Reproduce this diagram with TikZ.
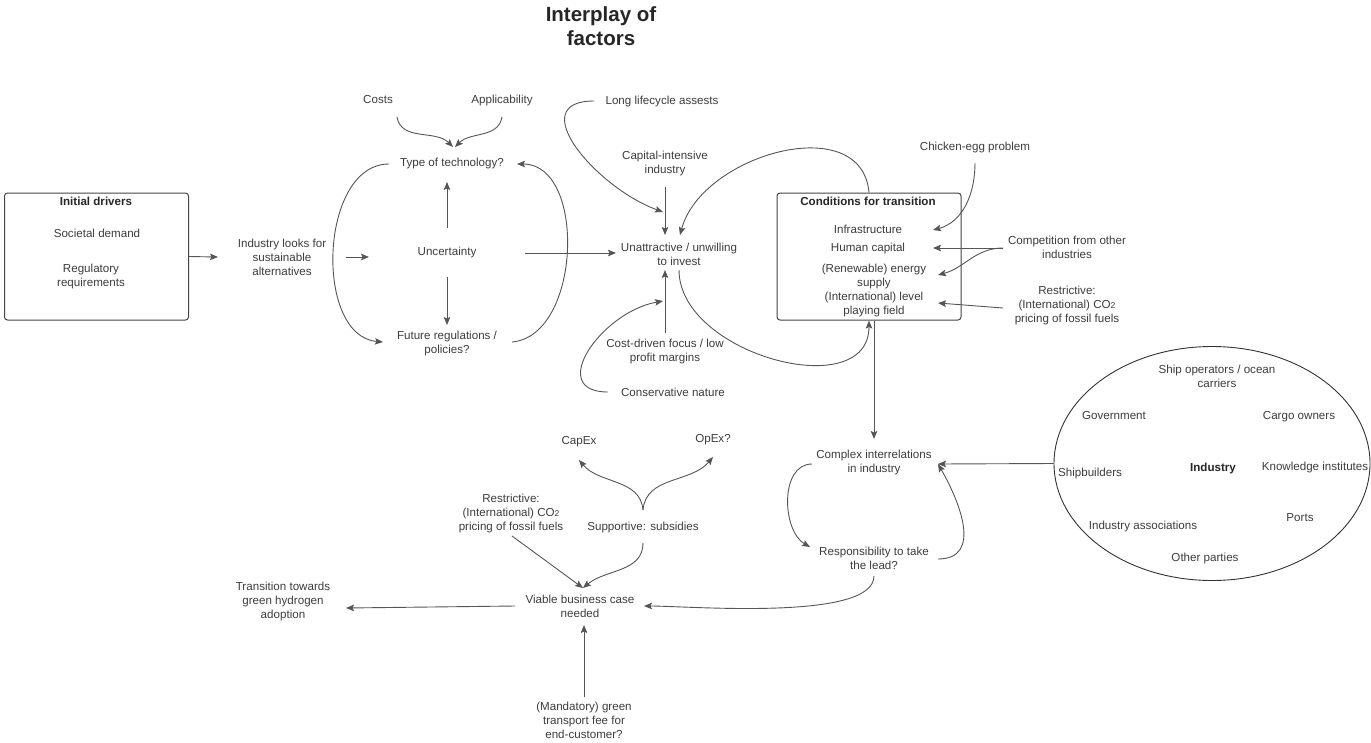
\documentclass[tikz,border=0pt]{standalone}
\usepackage{fontspec}
\setmainfont{Liberation Sans}
\usetikzlibrary{arrows.meta,calc,shapes.geometric}
\definecolor{txt}{HTML}{3C3C3C}
\definecolor{ln}{HTML}{555555}
\tikzset{
    lbl/.style={font=\fontsize{11.6}{14}\selectfont, text=txt, align=center, inner sep=0pt},
    hdr/.style={lbl, font=\bfseries\fontsize{11.6}{14}\selectfont, text=black!85},
    arr/.style={draw=ln, line width=0.9pt, -{Stealth[length=8pt,width=6.5pt,inset=1.5pt]}},
    frame/.style={draw=ln!80!black, line width=1pt, rounded corners=3pt},
}
\newcommand{\cotwo}{CO{\fontsize{8.5}{8.5}\selectfont 2}}

\begin{document}
\begin{tikzpicture}[x=1pt, y=-1pt]
    \useasboundingbox (0,0) rectangle (1371,742);
    \node[lbl, font=\bfseries\fontsize{20.5}{24}\selectfont, text=black!85] (title) at (601,26) {Interplay of\\factors};

    \node[frame, minimum width=184, minimum height=127] (drv) at (96.5,256.5) {};
    \node[hdr] (drvh) at (96,201) {Initial drivers};
    \node[lbl] (soc) at (97,233) {Societal demand};
    \node[lbl] (reg) at (91,276) {Regulatory\\requirements};

    \node[lbl] (look) at (282,257) {Industry looks for\\sustainable\\alternatives};
    \node[lbl] (cost) at (378,100) {Costs};
    \node[lbl] (appl) at (502,100) {Applicability};
    \node[lbl] (tech) at (452,163) {Type of technology?};
    \node[lbl] (unc) at (447,252) {Uncertainty};
    \node[lbl] (fut) at (447,343) {Future regulations /\\policies?};

    \node[lbl] (life) at (662,101) {Long lifecycle assests};
    \node[lbl] (capi) at (665,163) {Capital-intensive\\industry};
    \node[lbl] (inv) at (679,254) {Unattractive / unwilling\\to invest};
    \node[lbl] (cdf) at (665,351) {Cost-driven focus / low\\profit margins};
    \node[lbl] (cons) at (673,392) {Conservative nature};

    \node[frame, minimum width=184, minimum height=127] (cond) at (869,256.5) {};
    \node[hdr] (condh) at (868,201) {Conditions for transition};
    \node[lbl] (infra) at (868,229) {Infrastructure};
    \node[lbl] (hum) at (868,248) {Human capital};
    \node[lbl] (ener) at (874,276) {(Renewable) energy\\supply};
    \node[lbl] (field) at (874,304) {(International) level\\playing field};

    \node[lbl] (chick) at (975,147) {Chicken-egg problem};
    \node[lbl] (comp) at (1067,247) {Competition from other\\industries};
    \node[lbl] (restr) at (1067,305) {Restrictive:\\(International) \cotwo\\pricing of fossil fuels};

    \node[lbl] (cplx) at (874,462) {Complex interrelations\\in industry};
    \node[lbl] (resp) at (874,558) {Responsibility to take\\the lead?};

    \node[draw=black!80, line width=0.9pt, ellipse, minimum width=316, minimum height=234, inner sep=0pt] (ring) at (1212,463.5) {};
    \node[lbl] (ship) at (1217,376) {Ship operators / ocean\\carriers};
    \node[lbl] (gov) at (1114,416) {Government};
    \node[lbl] (cargo) at (1299,417) {Cargo owners};
    \node[lbl] (yard) at (1090,473) {Shipbuilders};
    \node[hdr] (ind) at (1213,468) {Industry};
    \node[lbl] (know) at (1315,467) {Knowledge institutes};
    \node[lbl] (assoc) at (1143,526) {Industry associations};
    \node[lbl] (port) at (1300,518) {Ports};
    \node[lbl] (other) at (1205,558) {Other parties};

    \node[lbl] (capex) at (579,442) {CapEx};
    \node[lbl] (opex) at (713,440) {OpEx?};
    \node[lbl] (sub) at (643,527) {Supportive: subsidies};
    \node[lbl] (restrb) at (511,513) {Restrictive:\\(International) \cotwo\\pricing of fossil fuels};
    \node[lbl] (biz) at (580,606) {Viable business case\\needed};
    \node[lbl] (hyd) at (283,601) {Transition towards\\green hydrogen\\adoption};
    \node[lbl] (fee) at (584,720) {(Mandatory) green\\transport fee for\\end-customer?};

    \draw[arr] (drv.east) -- ($(look)+(-64,0)$);
    \draw[arr] ($(look)+(64,0)$) -- ($(unc)+(-78,5)$);
    \draw[arr] ($(unc)+(0,-24)$) -- ($(tech)+(-5,19)$);
    \draw[arr] ($(unc)+(0,25)$) -- ($(fut)+(0,-18)$);
    \draw[arr] ($(cost)+(19,17)$) to[out=-80, in=135] ($(tech)+(1,-16)$);
    \draw[arr] ($(appl)+(0,17)$) to[out=-100, in=45] ($(tech)+(3,-16)$);
    \draw[arr] ($(tech)+(-63,1)$) to[out=180, in=175] ($(fut)+(-64,-1)$);
    \draw[arr] ($(fut)+(65,-1)$) to[out=5, in=0] ($(tech)+(65,1)$);
    \draw[arr] ($(unc)+(78,1)$) -- ($(inv)+(-63,-1)$);
    \draw[arr] ($(capi)+(0,24)$) -- ($(inv)+(-14,-19)$);
    \draw[arr] ($(life)+(-68,0)$) to[out=180, in=160, looseness=1.4] ($(inv)+(-16,-42)$);
    \draw[arr] (cond.north) to[out=95, in=75, looseness=1.1] ($(inv)+(1,-19)$);
    \draw[arr] ($(inv)+(0,16)$) to[out=-90, in=-90, looseness=1.1] (cond.south);
    \draw[arr] ($(cdf)+(0,-18)$) -- ($(inv)+(-14,16)$);
    \draw[arr] ($(cons)+(-65,0)$) to[out=180, in=190, looseness=1.5] ($(inv)+(-16,47)$);
    \draw[arr] ($(chick)+(0,16)$) to[out=-90, in=15] ($(infra)+(65,1)$);
    \draw[arr] ($(comp)+(-64,1)$) -- ($(hum)+(65,0)$);
    \draw[arr] ($(comp)+(-64,1)$) to[out=180, in=15] ($(ener)+(64,-1)$);
    \draw[arr] ($(restr)+(-64,3)$) -- ($(field)+(64,-1)$);
    \draw[arr] ($(cond.south)+(5,0)$) -- ($(cplx)+(0,-23)$);
    \draw[arr] (ring.west) -- ($(cplx)+(64,2)$);
    \draw[arr] ($(cplx)+(-62,2)$) to[out=180, in=150] ($(resp)+(-64,-11)$);
    \draw[arr] ($(resp)+(64,1)$) to[out=0, in=-60, looseness=1.2] ($(cplx)+(64,2)$);
    \draw[arr] ($(resp)+(0,18)$) to[out=-90, in=0, looseness=0.5] ($(biz)+(64,0)$);
    \draw[arr] ($(biz)+(-65,0)$) -- ($(hyd)+(63,7)$);
    \draw[arr] ($(fee)+(0,-23)$) -- ($(biz)+(4,19)$);
    \draw[arr] ($(restrb)+(1,23)$) -- ($(biz)+(3,-18)$);
    \draw[arr] ($(sub)+(0,16)$) to[out=-90, in=40] ($(biz)+(3,-18)$);
    \draw[arr] ($(sub)+(0,-17)$) to[out=95, in=-50] ($(capex)+(0,18)$);
    \draw[arr] ($(sub)+(0,-17)$) to[out=85, in=-130] ($(opex)+(0,17)$);
\end{tikzpicture}
\end{document}
